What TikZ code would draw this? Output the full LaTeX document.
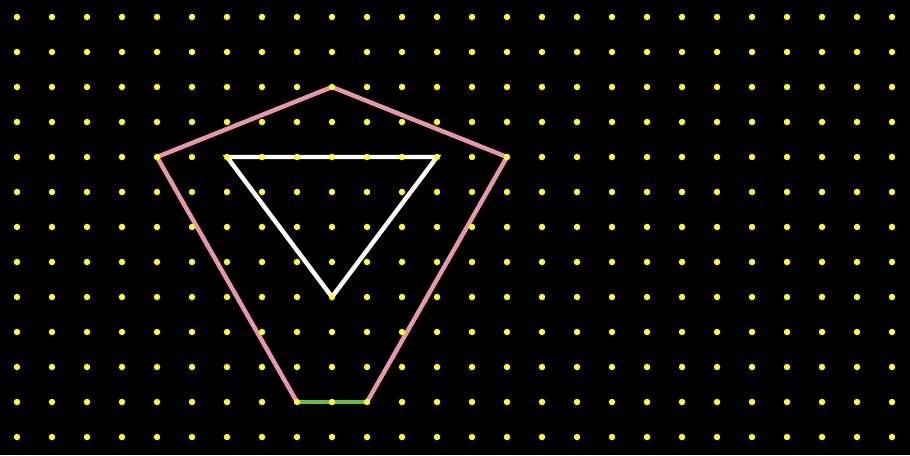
\documentclass[tikz,border=0pt]{standalone}
\usepackage{tikz}
\definecolor{pinkline}{RGB}{232,150,170}
\definecolor{greenline}{RGB}{100,190,60}
\definecolor{dotyellow}{RGB}{255,255,40}

\begin{document}
\begin{tikzpicture}[x=0.5cm, y=-0.5cm]
                % Background
                \fill[black] (-0.4857,-0.4857) rectangle (25.5143,12.5143);
                \useasboundingbox (-0.4857,-0.4857) rectangle (25.5143,12.5143);
                
                % Corner points
                \coordinate (top) at (9,2);
                \coordinate (right) at (14,4);
                \coordinate (botright) at (10,11);
                \coordinate (botleft) at (8,11);
                \coordinate (left) at (4,4);
                \coordinate (triA) at (6,4);
                \coordinate (triB) at (12,4);
                \coordinate (triC) at (9,8);
                
                % Outer shape
                \draw[pinkline, line width=1.8pt, line join=miter]
                (botright) -- (right) -- (top) -- (left) -- (botleft);
                \draw[greenline, line width=1.8pt] (botleft) -- (botright);
                
                % Inner triangle
                \draw[white, line width=1.8pt, line join=miter] (triA) -- (triB) -- (triC) -- cycle;
                
                % Dot grid
                \foreach \i in {0,...,25}
                    \foreach \j in {0,...,12}
                        \fill[dotyellow] (\i,\j) circle (0.46mm);
            \end{tikzpicture}
\end{document}
